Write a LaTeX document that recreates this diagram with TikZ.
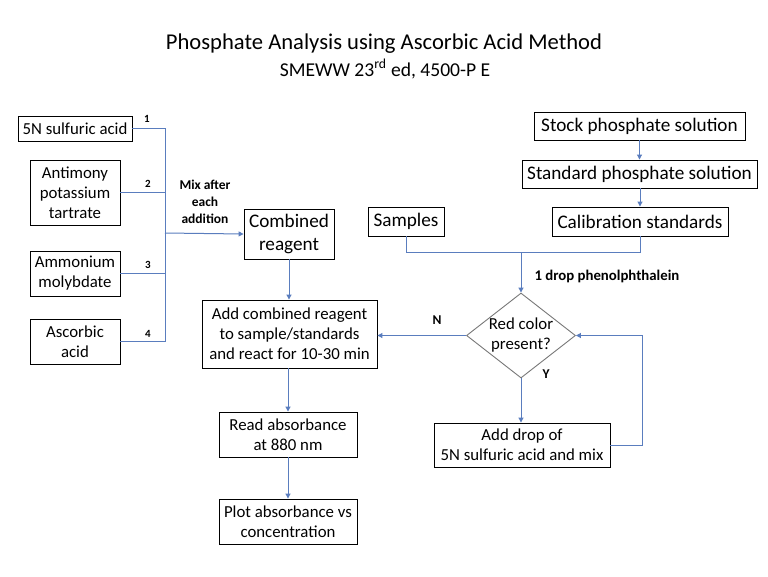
\documentclass[tikz,border=0pt]{standalone}
\usepackage{fontspec}
\setmainfont{Carlito}
\usetikzlibrary{shapes.geometric,arrows.meta,calc}
\definecolor{lineblue}{RGB}{90,125,190}
\definecolor{dgrey}{RGB}{120,120,120}
\begin{document}
\begin{tikzpicture}[x=1pt,y=-1pt,
  box/.style={draw=black,line width=0.9pt,align=center,inner sep=0pt,font=\fontsize{16.8}{20}\selectfont},
  bigbox/.style={box,font=\fontsize{19.2}{23}\selectfont},
  conn/.style={draw=lineblue,line width=1pt},
  arr/.style={conn,-{Triangle[length=5pt,width=5pt]}},
  lbl/.style={font=\bfseries\fontsize{13.5}{17}\selectfont,align=center},
  num/.style={font=\bfseries\fontsize{11}{13}\selectfont}]
\useasboundingbox (0,0) rectangle (768,576);
\fill[white] (0,0) rectangle (768,576);
% titles
\node (title) at (384,44) {\fontsize{22.6}{26}\selectfont Phosphate Analysis using Ascorbic Acid Method};
\node (sub) at (385,69) {\fontsize{19.6}{23}\selectfont SMEWW 23\textsuperscript{rd} ed, 4500-P E};
% left boxes
\node[box,minimum width=114,minimum height=25] (s1) at (75,128.5) {5N sulfuric acid};
\node[box,minimum width=90,minimum height=65] (s2) at (75,192.5) {Antimony\\potassium\\tartrate};
\node[box,minimum width=90,minimum height=45] (s3) at (75,273.5) {Ammonium\\molybdate};
\node[box,minimum width=90,minimum height=45] (s4) at (75,341.5) {Ascorbic\\acid};
\coordinate (b1) at (165,128.5);
\coordinate (b2) at (165,192.5);
\coordinate (b3) at (165,273.5);
\coordinate (b4) at (165,341.5);
\coordinate (bm) at (165,233);
\draw[conn] (s1.east) -- (b1) -- (b4);
\draw[conn] (s2.east) -- (b2);
\draw[conn] (s3.east) -- (b3);
\draw[conn] (s4.east) -- (b4);
\node[num] (n1) at (147,119) {1};
\node[num] (n2) at (148,184) {2};
\node[num] (n3) at (148,265) {3};
\node[num] (n4) at (148,334) {4};
\node[lbl] (mix) at (205,202) {Mix after\\each\\addition};
% center column
\node[bigbox,minimum width=90,minimum height=50] (cr) at (289,234) {Combined\\reagent};
\draw[arr] (bm) -- (cr.west);
\node[box,minimum width=175,minimum height=68] (add) at (289.5,334) {Add combined reagent\\to sample/standards\\and react for 10-30 min};
\draw[arr] (cr.south) -- (cr.south |- add.north);
\node[box,minimum width=138,minimum height=45] (read) at (288,434.5) {Read absorbance\\at 880 nm};
\draw[arr] (add.south -| read.north) -- (read.north);
\node[box,minimum width=138,minimum height=45] (plot) at (288,521.5) {Plot absorbance vs\\concentration};
\draw[arr] (read.south) -- (plot.north);
% right column
\node[bigbox,minimum width=211,minimum height=28] (stock) at (639.5,126) {Stock phosphate solution};
\node[bigbox,minimum width=235,minimum height=28] (std) at (639.5,174) {Standard phosphate solution};
\node[bigbox,minimum width=176,minimum height=29] (cal) at (640,221.5) {Calibration standards};
\node[bigbox,minimum width=76,minimum height=29] (samp) at (406,221.5) {Samples};
\draw[arr] (stock.south) -- (stock.south |- std.north);
\draw[arr] (std.south -| cal.north) -- (cal.north);
\coordinate (jn) at (521,252);
\draw[conn] (samp.south) -- (406,252) -- (640,252) -- (cal.south);
\node[draw=dgrey,line width=0.9pt,diamond,minimum width=109,minimum height=85,inner sep=0pt] (red) at (521,335.5) {};
\node[align=center,font=\fontsize{16.8}{20}\selectfont] (redtxt) at (red.center) {Red color\\present?};
\draw[arr] (jn) -- (red.north);
\node[lbl,anchor=west,font=\bfseries\fontsize{14.8}{17}\selectfont] (phen) at (531,276) {1 drop phenolphthalein};
\draw[arr] (red.west) -- (red.west -| add.east);
\node[lbl] (nl) at (437,320) {N};
\node[lbl] (yl) at (546,374) {Y};
\node[box,minimum width=176,minimum height=44] (drop) at (522,445) {Add drop of\\5N sulfuric acid and mix};
\draw[arr] (red.south) -- (red.south |- drop.north);
\draw[arr] (drop.east) -- (642,445) -- (642,335.5) -- (red.east);
\end{tikzpicture}
\end{document}
